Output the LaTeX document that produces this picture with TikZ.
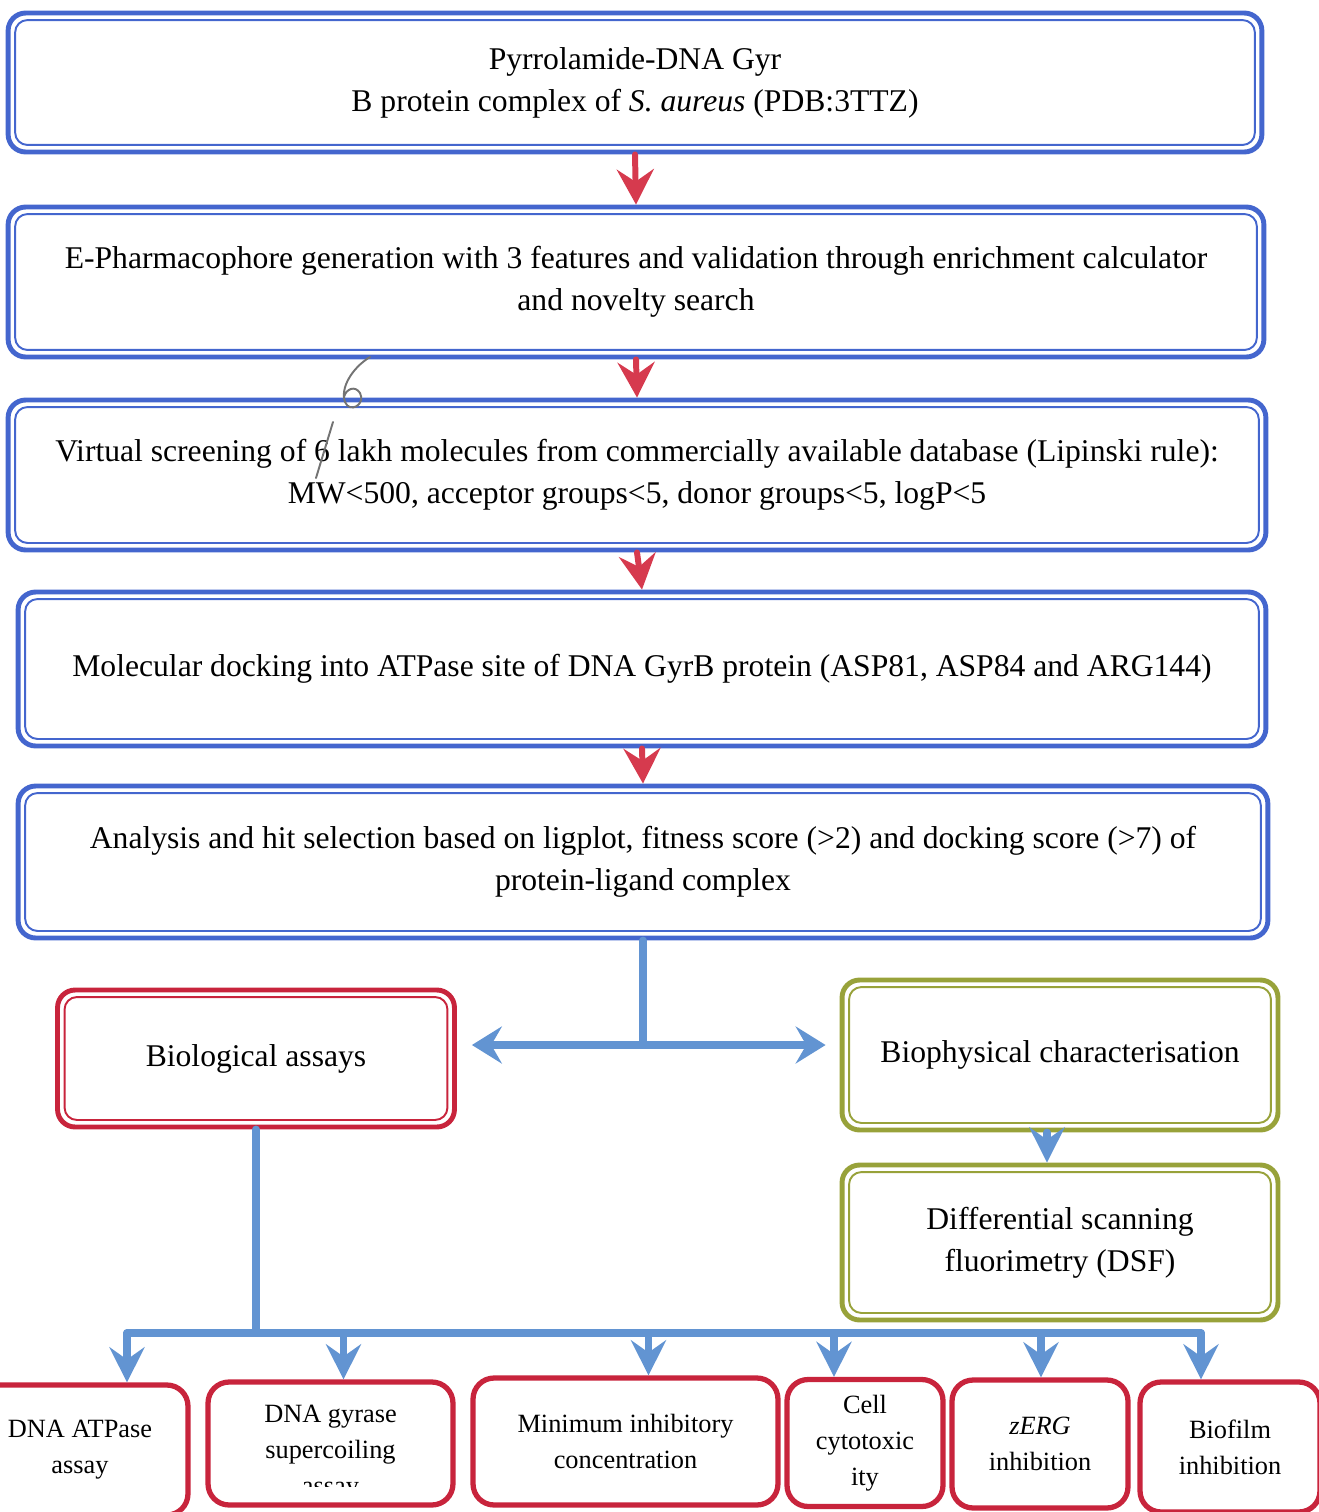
\documentclass[tikz,border=0pt]{standalone}
\usepackage{fontspec}
\setmainfont{Liberation Serif}
\usepackage{tikz}
\usetikzlibrary{arrows.meta,calc}
\definecolor{gyrblue}{RGB}{68,102,206}
\definecolor{arrowred}{RGB}{214,58,78}
\definecolor{assayred}{RGB}{200,36,60}
\definecolor{physolive}{RGB}{152,162,58}
\definecolor{linkblue}{RGB}{98,148,210}
\tikzset{
  dblbox/.style={draw=#1, line width=2.8pt, rounded corners=10pt, align=center,
    font=\fontsize{18}{24}\selectfont,
    path picture={\draw[#1, line width=1.1pt, rounded corners=7pt]
      ([shift={(4pt,-4pt)}]path picture bounding box.north west) rectangle
      ([shift={(-4pt,4pt)}]path picture bounding box.south east);}},
  testtext/.style={align=center, font=\fontsize{15}{20.5}\selectfont},
  testbox/.style={testtext, draw=assayred, line width=3pt, rounded corners=12pt},
  redarrow/.style={draw=arrowred, line width=3.4pt, -{Stealth[length=20pt,width=21pt,inset=7pt]}},
  bluelink/.style={draw=linkblue, line width=4.4pt},
  bluearrow/.style={bluelink, -{Stealth[length=20pt,width=20pt,inset=7pt]}},
  pencil/.style={draw=black!55, line width=1.1pt}
}
\begin{document}
\begin{tikzpicture}[line cap=round,line join=round,x=0.02cm,y=-0.02cm]
        \useasboundingbox (0,0) rectangle (1319,1512);
        \clip (0,0) rectangle (1319,1512);
        \node[dblbox=gyrblue, minimum width=25.08cm, minimum height=2.78cm] (gyr) at (635,82.5) {Pyrrolamide-DNA Gyr\\B protein complex of \textit{S. aureus} (PDB:3TTZ)};
        \node[dblbox=gyrblue, minimum width=25.12cm, minimum height=3cm] (pharm) at (636,282) {E-Pharmacophore generation with 3 features and validation through enrichment calculator\\and novelty search};
        \node[dblbox=gyrblue, minimum width=25.16cm, minimum height=3cm] (screen) at (637,475) {Virtual screening of 6 lakh molecules from commercially available database (Lipinski rule):\\MW<500, acceptor groups<5, donor groups<5, logP<5};
        \node[dblbox=gyrblue, minimum width=24.96cm, minimum height=3.08cm] (dock) at (642,669) {Molecular docking into ATPase site of DNA GyrB protein (ASP81, ASP84 and ARG144)};
        \node[dblbox=gyrblue, minimum width=25cm, minimum height=3.04cm] (hits) at (643,862) {Analysis and hit selection based on ligplot, fitness score (>2) and docking score (>7) of\\protein-ligand complex};
        \node[dblbox=assayred, minimum width=7.94cm, minimum height=2.74cm] (bio) at (256,1058.5) {Biological assays};
        \node[dblbox=physolive, minimum width=8.72cm, minimum height=3cm] (phys) at (1060,1055) {Biophysical characterisation};
        \node[dblbox=physolive, minimum width=8.72cm, minimum height=3.1cm] (dsf) at (1060,1242.5) {Differential scanning\\fluorimetry (DSF)};
        \node[testbox, minimum width=4.32cm, minimum height=2.6cm] (atp) at (80,1450) {DNA ATPase\\assay};
        \node[testbox, minimum width=4.9cm, minimum height=2.46cm] (gyrase) at (330.5,1443.5) {};
        \begin{scope}
            \clip (gyrase.north west) rectangle ([yshift=0.42cm]gyrase.south east);
            \node[testtext] (gyrasetext) at (330.5,1453) {DNA gyrase\\supercoiling\\assay};
        \end{scope}
        \node[testbox, minimum width=6.1cm, minimum height=2.54cm] (mic) at (625.5,1441.5) {Minimum inhibitory\\concentration};
        \node[testbox, minimum width=3.12cm, minimum height=2.54cm] (cell) at (865,1443) {Cell\\cytotoxic\\ity};
        \node[testbox, minimum width=3.52cm, minimum height=2.56cm] (zerg) at (1040,1444) {\textit{zERG}\\inhibition};
        \node[testbox, minimum width=3.6cm, minimum height=2.6cm] (biofilm) at (1230,1447) {Biofilm\\inhibition};
        \foreach \a/\b in {gyr/pharm, pharm/screen, screen/dock, dock/hits}
            \draw[redarrow] (\a.south) -- (\b.north);
        \coordinate (split) at (643,1045);
        \draw[bluelink] (hits.south) -- (split);
        \draw[bluelink, {Stealth[length=17pt,width=21pt,inset=6pt]}-{Stealth[length=17pt,width=21pt,inset=6pt]}, shorten <=0.3cm, shorten >=0.28cm] (bio.east |- split) -- (phys.west |- split);
        \draw[bluearrow] ([xshift=-0.26cm]phys.south) -- ([xshift=-0.26cm]dsf.north);
        \coordinate (bus) at (255,1333);
        \draw[bluelink] (bio.south) -- (bio.south |- bus);
        \draw[bluelink] ($(atp.north |- bus)+(47,0)$) -- ($(biofilm.north |- bus)+(-29,0)$);
        \foreach \test/\dx in {atp/47, gyrase/13, mic/23, cell/-31, zerg/1, biofilm/-29}
            \draw[bluearrow] ($(\test.north |- bus)+(\dx,0)$) -- ($(\test.north)+(\dx,0)$);
        \draw[pencil] (333,422) -- (316,478);
        \draw[pencil] (370,357) .. controls (352,368) and (340,388) .. (345,402) .. controls (350,414) and (366,404) .. (360,393) .. controls (355,385) and (346,389) .. (344,397);
    \end{tikzpicture}
\end{document}
